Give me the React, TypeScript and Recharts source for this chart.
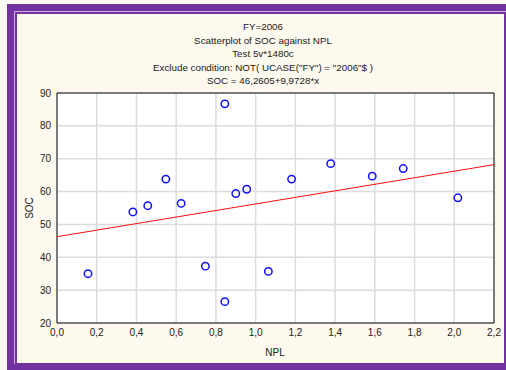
import { ScatterChart, Scatter, XAxis, YAxis, CartesianGrid } from 'recharts';

const npl = [0.156, 0.382, 0.457, 0.548, 0.625, 0.747, 0.845, 0.845, 0.9, 0.955, 1.064, 1.181, 1.378, 1.587, 1.743, 2.018];
const soc = [35.0, 53.8, 55.7, 63.8, 56.4, 37.3, 86.7, 26.5, 59.4, 60.7, 35.7, 63.8, 68.5, 64.7, 67.0, 58.1];

// fitted line SOC = 46,2605 + 9,9728*x, endpoints at the axis limits
const fitX = [0, 2.2];
const fitY = [46.26, 68.2];

const xTicks = [0, 0.2, 0.4, 0.6, 0.8, 1.0, 1.2, 1.4, 1.6, 1.8, 2.0, 2.2];
const yTicks = [20, 30, 40, 50, 60, 70, 80, 90];

const titleLines = [
  'FY=2006',
  'Scatterplot of SOC against NPL',
  'Test 5v*1480c',
  'Exclude condition: NOT( UCASE("FY") = "2006"$ )',
  'SOC = 46,2605+9,9728*x',
];

const xMinor = Array.from({ length: 23 }, (_, i) => i / 10);
const yMinor = Array.from({ length: 36 }, (_, i) => 20 + i * 2);

const points = npl.map((x, i) => ({ x, y: soc[i] }));
const fit = fitX.map((x, i) => ({ x, y: fitY[i] }));

const font = '"Liberation Sans", Arial, sans-serif';
const purple = '#7232a0';
const cream = '#fdf9ee';

const fmt = (v: number) => v.toFixed(1).replace('.', ',');
const blank = () => '';

const Ring = (props: any) => {
  const { cx, cy } = props;
  return <circle cx={cx} cy={cy} r={3.7} fill="none" stroke="#1010ff" strokeWidth={1.5} />;
};

export default function App() {
  return (
    <div style={{ position: 'absolute', left: 0, top: 0, width: 506, height: 370, background: '#fbf9f3', fontFamily: font }}>
      <div style={{ position: 'absolute', left: 7, top: 4, width: 499, height: 366, background: purple }} />
      <div style={{ position: 'absolute', left: 14, top: 11, width: 492, height: 353, background: '#c9aede' }} />
      <div style={{ position: 'absolute', left: 15, top: 12, width: 487, height: 349, background: cream, border: `2px solid ${purple}` }} />

      {titleLines.map((t, i) => (
        <div
          key={i}
          style={{
            position: 'absolute',
            left: 63,
            width: 400,
            top: 20 + i * 13.5,
            textAlign: 'center',
            fontSize: 9.8,
            lineHeight: '13px',
            color: '#222',
          }}
        >
          {t}
        </div>
      ))}

      <div style={{ position: 'absolute', left: 0, top: 0 }}>
        <ScatterChart width={506} height={370} margin={{ top: 93, right: 12, bottom: 17, left: 17 }}>
          <CartesianGrid xAxisId="x" yAxisId="y" stroke="#dcdcdc" strokeWidth={1.5} fill="#ffffff" />
          <XAxis
            xAxisId="x"
            dataKey="x"
            type="number"
            domain={[0, 2.2]}
            ticks={xTicks}
            tickFormatter={fmt}
            tickLine={false}
            tickSize={4}
            axisLine={{ stroke: '#111' }}
            tick={{ fontSize: 10, fill: '#222', fontFamily: font }}
            height={30}
            interval={0}
          />
          <XAxis xAxisId="xb" type="number" domain={[0, 2.2]} ticks={xMinor} mirror tickSize={3} tickFormatter={blank} axisLine={false} tickLine={{ stroke: '#111' }} interval={0} />
          <XAxis xAxisId="xt" orientation="top" type="number" domain={[0, 2.2]} ticks={xMinor} mirror tickSize={3} tickFormatter={blank} axisLine={{ stroke: '#111' }} tickLine={{ stroke: '#111' }} interval={0} />
          <YAxis
            yAxisId="y"
            dataKey="y"
            type="number"
            domain={[20, 90]}
            ticks={yTicks}
            tickLine={false}
            tickSize={4}
            axisLine={{ stroke: '#111' }}
            tick={{ fontSize: 10, fill: '#222', fontFamily: font }}
            width={40}
            interval={0}
          />
          <YAxis yAxisId="yl" type="number" domain={[20, 90]} ticks={yMinor} mirror tickSize={3} tickFormatter={blank} axisLine={false} tickLine={{ stroke: '#111' }} interval={0} />
          <YAxis yAxisId="yr" orientation="right" type="number" domain={[20, 90]} ticks={yMinor} mirror tickSize={3} tickFormatter={blank} axisLine={{ stroke: '#111' }} tickLine={{ stroke: '#111' }} interval={0} />
          <Scatter xAxisId="x" yAxisId="y" data={fit} line={{ stroke: '#ff1010', strokeWidth: 1 }} shape={() => <g />} isAnimationActive={false} />
          <Scatter xAxisId="x" yAxisId="y" data={points} shape={Ring} isAnimationActive={false} />
          <text x={275} y={356} textAnchor="middle" fontSize={10} fill="#222" fontFamily={font}>NPL</text>
          <text x={33} y={208} textAnchor="middle" fontSize={10} fill="#222" fontFamily={font} transform="rotate(-90 33 208)">SOC</text>
        </ScatterChart>
      </div>
    </div>
  );
}
